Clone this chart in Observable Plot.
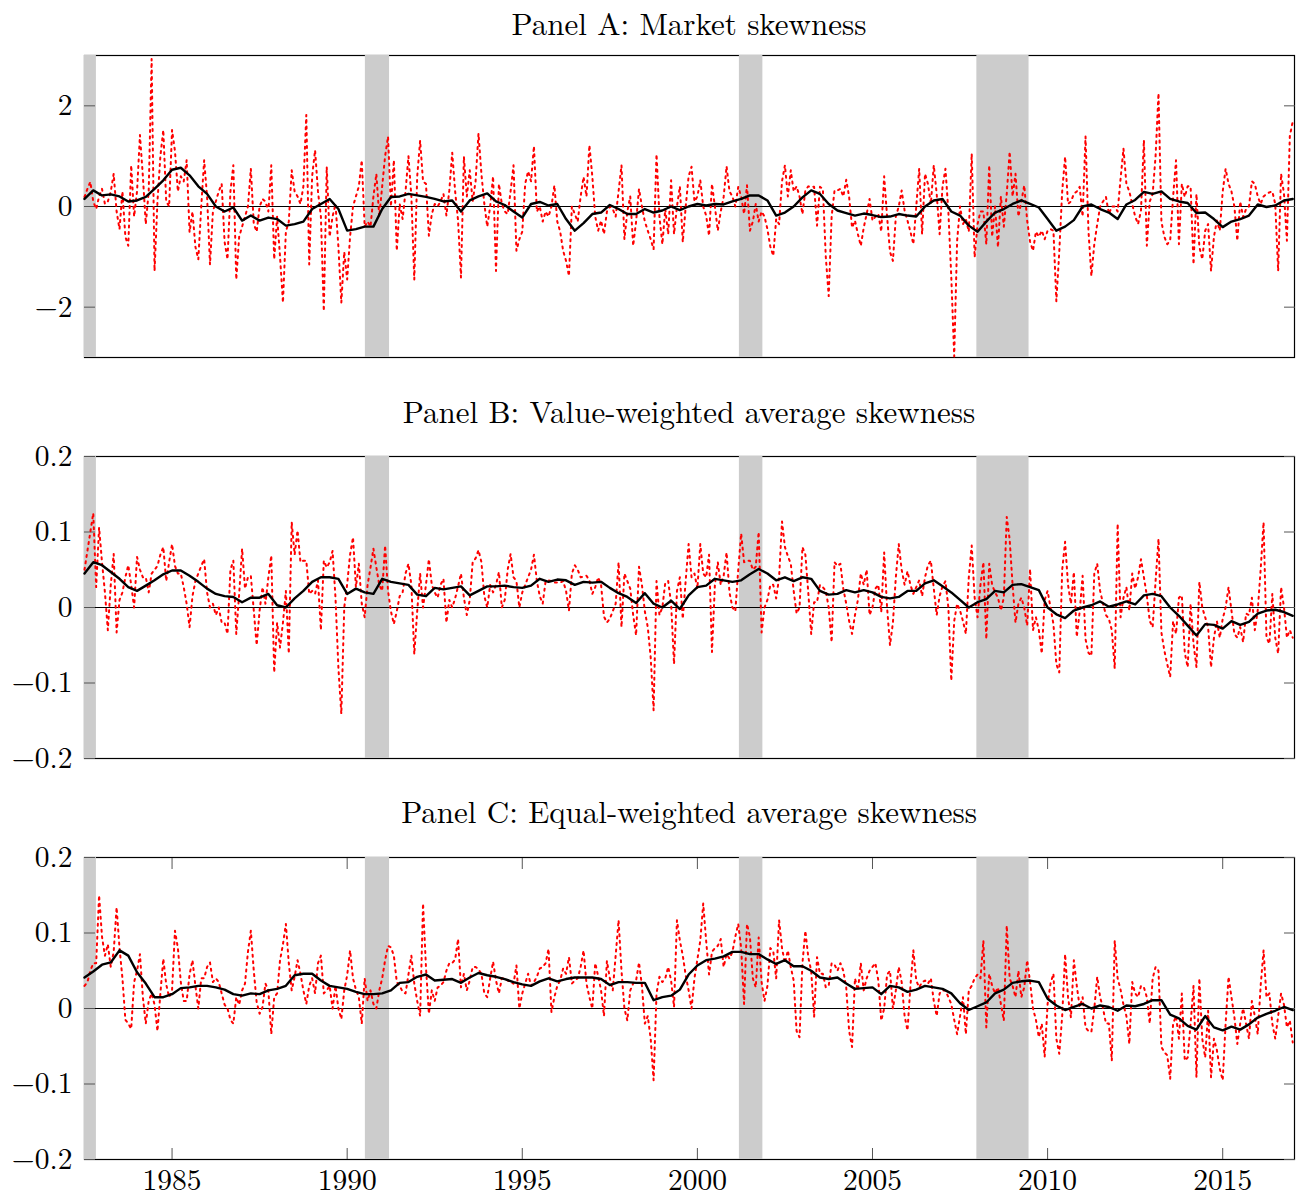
<!DOCTYPE html>
<html>
<head>
<meta charset="utf-8">
<script src="https://cdn.jsdelivr.net/npm/d3@7"></script>
<script src="https://cdn.jsdelivr.net/npm/@observablehq/plot@0.6"></script>
<style>
  html, body { margin: 0; padding: 0; background: #fff; }
  #root { position: relative; width: 1299px; height: 1197px;
          font-family: "Latin Modern Roman", "CMU Serif", "Liberation Serif", serif; }
  .ttl { position: absolute; left: 84px; width: 1210px; text-align: center;
         font-size: 31px; line-height: normal; color: #000; white-space: nowrap; }
  .pnl { position: absolute; left: 0; }
</style>
</head>
<body>
<div id="root"></div>
<script>
// ---------------- DATA ----------------
// monthly observations, first month = June 1982 (decimal year 1982.5), last = Dec 2016
const startYear = 1982.5;

const panelTitles = [
  "Panel A: Market skewness",
  "Panel B: Value-weighted average skewness",
  "Panel C: Equal-weighted average skewness"
];

// NBER recessions (decimal years)
const recessionStart = [1982.5, 1990.52, 2001.2, 2007.98];
const recessionEnd   = [1982.84, 1991.21, 2001.87, 2009.47];

const xTicks  = [1985, 1990, 1995, 2000, 2005, 2010, 2015];
const yTicksA = [-2, 0, 2];
const yTicksBC = [-0.2, -0.1, 0, 0.1, 0.2];

// Panel A: market skewness (monthly, red dotted)
const marketSkew = [
0.19,0.35,0.49,0.1,-0.05,0.2,0.35,0.05,0.1,0.3,
0.65,-0.1,-0.45,0.3,-0.6,-0.78,0.82,-0.2,0.3,1.42,
0.6,-0.35,0.3,2.93,-1.28,0.1,1.0,1.52,0.1,0.0,
1.52,1.1,0.3,0.6,0.5,0.92,-0.51,-0.1,-0.8,-1.05,
0.0,0.92,0.2,-1.15,-0.1,0.1,0.3,0.45,-0.7,-1.05,
0.3,0.82,-1.45,-0.6,-0.4,-0.2,0.0,0.75,-0.35,-0.5,
0.0,0.15,0.1,-0.1,0.82,-1.05,-0.2,-1.0,-1.91,-0.5,
-0.3,0.72,0.3,0.2,0.05,0.4,1.82,-1.15,0.6,1.12,
0.3,-0.2,-2.08,0.79,-0.6,-0.2,0.05,-0.8,-1.91,-0.9,
-1.45,-0.6,0.0,0.2,0.4,0.92,-0.4,-0.3,-0.4,0.2,
0.65,-0.2,0.4,1.0,1.39,0.0,0.92,-0.88,0.05,-0.25,
0.3,1.0,0.2,-1.45,0.6,1.31,0.5,0.45,-0.58,-0.15,
0.05,0.0,0.1,0.25,-0.18,0.32,1.07,0.3,-0.28,-1.41,
0.99,0.2,0.72,0.1,0.5,1.45,0.65,0.05,-0.4,0.0,
0.6,-1.28,0.45,0.05,-0.1,-0.15,0.3,0.82,-0.88,-0.65,
-0.5,0.45,0.7,0.5,1.2,-0.1,0.0,-0.3,-0.1,-0.2,
0.0,0.42,-0.3,-0.5,-0.88,-1.08,-1.38,0.0,-0.15,-0.3,
0.2,0.59,0.2,1.22,0.6,-0.2,-0.48,-0.28,-0.55,-0.1,
0.0,-0.05,-0.2,0.3,0.82,-0.65,-0.1,0.2,-0.78,-0.3,
0.35,0.0,-0.3,-0.48,-0.65,-0.85,1.04,-0.2,-0.75,-0.05,
-0.55,0.52,-0.55,0.0,0.4,-0.71,0.0,0.6,0.79,0.1,
0.2,0.52,0.0,-0.18,-0.58,0.45,0.0,-0.48,-0.1,0.19,
0.8,0.3,0.2,0.0,0.39,0.2,-0.15,0.42,-0.48,-0.3,
0.05,-0.3,-0.1,-0.2,-0.45,-0.8,-0.98,-0.25,-0.35,0.5,
0.82,0.2,0.72,0.3,0.4,0.2,-0.15,0.32,0.4,0.39,
0.39,-0.38,0.39,0.35,-1.0,-1.78,-0.2,0.32,0.32,0.35,
0.2,0.53,0.19,-0.42,-0.28,-0.55,-0.78,-0.42,-0.15,0.15,
-0.28,-0.2,-0.15,-0.5,0.6,-0.2,-0.9,-1.08,-0.2,0.0,
0.32,-0.08,-0.28,-0.5,-0.75,0.0,0.75,-0.55,0.65,0.45,
0.05,0.82,0.25,-0.55,0.4,0.75,-0.1,-1.4,-2.98,-0.68,
0.0,-0.35,-0.25,-0.5,1.05,-1.01,-0.35,-0.1,-0.1,-0.75,
0.82,-0.6,0.0,-0.81,0.2,-0.4,0.25,1.09,0.2,0.65,
-0.2,0.1,0.42,-0.28,-0.7,-0.88,-0.5,-0.6,-0.48,-0.65,
-0.48,-0.45,-0.48,-1.88,-0.9,0.3,0.99,0.05,0.1,0.25,
0.3,0.39,-0.2,1.39,-0.48,-1.38,-0.75,-0.35,0.0,0.1,
0.19,-0.15,0.0,0.0,-0.1,0.55,1.15,0.45,0.3,0.05,
-0.2,-0.35,-0.08,1.32,-0.78,0.1,0.25,1.0,2.25,-0.3,
-0.6,-0.75,-0.68,0.19,0.92,-0.75,0.45,0.19,0.4,0.4,
-1.15,0.25,-0.8,-1.05,-0.48,-0.35,-1.28,-0.6,-0.28,-0.48,
0.3,0.75,0.45,0.3,0.0,-0.68,0.1,-0.21,-0.05,0.0,
0.5,0.45,0.2,0.05,0.2,0.25,0.28,0.3,0.05,-1.28,
0.65,0.25,-0.68,1.4,1.69
];

// Panel B: value-weighted average skewness (monthly, red dotted)
const vwSkew = [
0.05,0.075,0.1,0.125,0.027,0.106,0.06,0.02,-0.03,0.03,
0.071,-0.033,0.01,0.02,0.04,0.056,0.03,0.0,0.067,0.05,
0.04,0.04,0.02,0.045,0.05,0.055,0.07,0.08,0.035,0.06,
0.084,0.055,0.045,0.045,0.027,0.005,-0.026,0.015,0.035,0.045,
0.055,0.064,0.02,0.0,0.005,-0.01,0.0,-0.02,-0.02,-0.035,
0.05,0.062,-0.035,0.018,0.078,0.025,0.04,0.042,-0.004,-0.05,
-0.004,0.027,0.005,0.04,0.069,-0.086,-0.02,-0.053,-0.02,0.022,
-0.061,0.113,0.07,0.102,0.06,0.062,0.062,0.018,0.022,0.018,
0.036,-0.03,0.062,0.053,0.06,0.075,0.013,-0.08,-0.141,0.0,
0.031,0.07,0.093,0.027,0.058,0.005,-0.013,0.03,0.053,0.078,
0.053,0.03,0.022,0.082,0.022,-0.005,-0.022,-0.005,0.015,0.02,
0.045,0.058,0.03,-0.062,-0.005,0.045,0.0,0.03,0.064,0.03,
0.02,0.013,0.03,0.038,-0.02,0.01,0.0,0.012,0.028,0.045,
0.013,-0.01,0.01,0.06,0.065,0.076,0.06,0.015,0.0,0.03,
0.02,0.03,0.047,0.0,0.01,0.05,0.071,0.04,0.035,0.0,
0.02,0.03,0.04,0.05,0.07,0.035,0.015,0.005,0.035,0.036,
0.035,0.033,0.033,0.033,0.035,0.022,-0.004,0.045,0.056,0.05,
0.04,0.041,0.042,0.036,0.018,0.027,0.04,0.03,-0.012,-0.02,
-0.015,-0.005,0.005,0.06,-0.026,0.045,0.035,0.025,-0.01,-0.037,
0.054,0.03,-0.005,-0.026,-0.066,-0.136,0.035,-0.01,0.0,0.033,
0.035,0.005,-0.075,0.022,0.04,-0.015,0.036,0.084,0.04,0.045,
0.025,0.084,0.045,0.04,0.07,-0.059,0.03,0.06,0.03,0.042,
0.073,0.02,0.0,-0.005,0.05,0.098,0.06,0.062,0.062,0.05,
0.054,0.1,-0.033,0.0,0.01,0.03,0.03,0.012,0.04,0.114,
0.08,0.068,0.058,0.022,-0.008,0.0,0.08,0.07,0.02,-0.035,
0.007,0.007,0.03,0.027,0.022,0.0,-0.046,0.06,0.055,0.058,
0.025,0.005,-0.018,-0.035,-0.01,0.01,0.045,0.03,0.05,-0.01,
0.0,0.025,0.03,-0.006,0.073,0.0,-0.05,-0.02,0.04,0.084,
0.05,0.03,0.048,0.03,0.018,0.027,0.036,0.015,0.04,0.056,
0.062,0.025,-0.01,0.015,0.028,0.035,0.0,-0.097,-0.018,0.005,
-0.004,-0.018,-0.035,0.04,0.082,0.013,-0.013,0.03,0.06,-0.042,
0.058,0.03,0.02,0.013,-0.004,0.013,0.12,0.09,0.03,-0.02,
0.005,0.013,0.0,-0.024,0.051,-0.03,-0.013,-0.03,-0.061,0.01,
0.022,0.0,-0.022,-0.075,-0.086,0.05,0.087,0.03,0.005,0.047,
-0.039,-0.005,0.042,-0.042,-0.06,-0.064,0.045,0.058,0.022,0.005,
-0.01,-0.015,-0.03,-0.081,0.111,-0.013,0.013,0.027,-0.004,0.045,
0.025,0.04,0.064,0.04,0.016,-0.018,-0.026,0.035,0.091,-0.033,
-0.057,-0.075,-0.092,-0.018,-0.035,0.013,0.016,-0.06,-0.079,0.005,
-0.048,-0.079,0.034,0.0,-0.013,-0.026,-0.079,-0.04,-0.018,-0.04,
-0.015,0.0,0.027,-0.004,-0.035,-0.04,-0.026,-0.046,-0.008,-0.01,
0.013,-0.03,-0.004,0.05,0.113,-0.04,-0.048,0.018,-0.04,-0.061,
0.027,0.0,-0.04,-0.03,-0.04
];

// Panel C: equal-weighted average skewness (monthly, red dotted)
const ewSkew = [
0.03,0.035,0.05,0.06,0.06,0.15,0.095,0.07,0.085,0.055,
0.075,0.134,0.08,0.04,-0.015,-0.02,-0.027,0.035,0.05,0.072,
0.015,-0.02,0.01,0.02,0.005,-0.03,0.02,0.066,0.032,0.015,
0.024,0.103,0.08,0.035,0.01,0.01,0.045,0.064,0.03,0.0,
0.04,0.04,0.055,0.061,0.035,0.04,0.035,0.02,0.005,0.0,
-0.015,-0.02,0.015,0.005,0.024,0.033,0.075,0.103,0.05,0.008,
-0.007,0.002,0.033,0.024,-0.034,0.015,0.02,0.064,0.085,0.112,
0.06,0.024,0.042,0.064,0.046,0.024,0.006,0.03,0.04,0.02,
0.06,0.07,0.02,0.024,0.03,0.0,0.03,0.0,-0.014,0.024,
0.044,0.077,0.04,0.025,0.015,-0.02,0.04,0.01,0.024,0.006,
0.0,0.024,0.04,0.064,0.083,0.081,0.07,0.035,0.03,0.022,
0.02,0.045,0.07,0.033,0.01,-0.01,0.139,0.055,-0.007,0.024,
0.01,0.028,0.03,0.035,0.05,0.06,0.06,0.065,0.092,0.028,
0.046,0.024,0.037,0.055,0.055,0.052,0.046,0.02,0.015,0.04,
0.062,0.037,0.02,0.04,0.04,0.037,0.035,0.033,0.057,0.0,
0.02,0.033,0.046,0.03,0.035,0.042,0.053,0.055,0.06,0.079,
-0.005,0.015,0.03,0.037,0.053,0.046,0.068,0.033,0.037,0.04,
0.055,0.077,0.033,0.015,0.0,0.06,0.043,0.024,-0.01,0.063,
0.04,0.024,0.07,0.117,0.05,0.0,-0.016,0.024,0.033,0.037,
0.061,0.03,-0.02,-0.01,-0.04,-0.095,0.02,0.042,0.035,0.04,
0.055,0.037,0.002,0.117,0.09,0.07,0.044,0.024,0.0,0.04,
0.065,0.09,0.139,0.09,0.045,0.075,0.08,0.083,0.092,0.055,
0.072,0.066,0.075,0.095,0.112,0.08,0.006,0.112,0.095,0.04,
0.028,0.094,0.035,0.01,0.03,0.08,0.076,0.04,0.117,0.08,
0.06,0.077,0.055,0.037,-0.03,-0.038,0.06,0.103,0.068,0.05,
-0.011,0.068,0.046,0.046,0.028,0.03,0.06,0.058,0.05,0.06,
0.05,0.028,-0.03,-0.051,0.04,0.024,0.06,0.024,0.04,0.05,
0.055,0.06,0.037,-0.016,0.0,0.045,0.05,0.0,0.024,0.055,
0.035,-0.01,-0.029,0.03,0.077,0.037,0.028,0.035,0.037,0.033,
0.04,0.01,-0.01,0.02,0.024,0.024,0.015,0.006,-0.015,-0.034,
-0.01,0.015,-0.034,0.024,0.03,0.04,0.045,0.04,0.09,-0.025,
0.046,0.03,0.02,0.028,0.006,-0.016,0.11,0.04,0.03,0.015,
0.05,0.015,0.028,0.064,0.035,0.0,-0.015,-0.038,-0.02,-0.064,
0.006,0.033,0.046,-0.04,-0.06,-0.01,0.072,0.015,-0.012,0.064,
0.03,0.002,0.015,-0.025,-0.03,-0.031,0.0,0.042,0.015,0.0,
-0.02,-0.02,-0.069,0.09,0.04,0.025,0.005,-0.01,-0.047,0.035,
0.02,0.015,0.03,0.028,0.015,-0.02,0.04,0.055,0.05,-0.051,
-0.058,-0.062,-0.093,-0.02,-0.01,-0.04,0.02,-0.069,-0.065,-0.02,
0.03,-0.091,0.04,-0.04,-0.065,-0.003,-0.091,-0.04,-0.055,-0.08,
-0.095,-0.02,0.042,0.015,-0.011,-0.047,-0.02,0.0,-0.02,-0.04,
0.01,-0.01,-0.034,0.03,0.077,0.015,0.02,-0.02,-0.04,-0.01,
0.02,0.005,-0.025,-0.016,-0.045
];

// Smoothed series (black solid), read every quarter starting June 1982
const marketSkewMA = [
0.15,0.32,0.22,0.24,0.2,0.1,0.12,0.19,0.35,0.52,
0.73,0.77,0.62,0.4,0.25,0.0,-0.1,-0.02,-0.28,-0.18,
-0.28,-0.22,-0.25,-0.38,-0.35,-0.3,-0.05,0.05,0.15,-0.05,
-0.48,-0.45,-0.4,-0.4,-0.05,0.19,0.2,0.25,0.22,0.19,
0.15,0.1,0.12,-0.1,0.12,0.2,0.26,0.1,0.03,-0.1,
-0.22,0.05,0.09,0.02,0.05,-0.25,-0.48,-0.33,-0.15,-0.12,
0.03,-0.05,-0.15,-0.15,-0.05,-0.12,-0.08,0.0,-0.07,0.0,
0.05,0.02,0.05,0.04,0.1,0.15,0.22,0.22,0.12,-0.18,
-0.12,0.0,0.18,0.32,0.25,0.05,-0.08,-0.13,-0.18,-0.14,
-0.17,-0.21,-0.2,-0.15,-0.18,-0.2,0.0,0.12,0.15,-0.1,
-0.18,-0.38,-0.5,-0.3,-0.12,-0.05,0.05,0.12,0.05,-0.02,
-0.25,-0.48,-0.4,-0.27,0.0,0.04,-0.05,-0.12,-0.25,0.04,
0.13,0.29,0.25,0.3,0.15,0.1,0.07,-0.13,-0.12,-0.25,
-0.41,-0.3,-0.25,-0.18,0.04,-0.01,0.02,0.12,0.15
];
const vwSkewMA = [
0.045,0.06,0.056,0.047,0.038,0.027,0.022,0.029,0.036,0.044,
0.049,0.049,0.042,0.034,0.025,0.018,0.015,0.014,0.007,0.013,
0.013,0.018,0.003,0.0,0.012,0.022,0.034,0.04,0.04,0.038,
0.018,0.025,0.02,0.018,0.038,0.034,0.032,0.03,0.017,0.015,
0.026,0.024,0.026,0.028,0.016,0.022,0.028,0.028,0.029,0.027,
0.026,0.029,0.038,0.034,0.037,0.036,0.03,0.034,0.033,0.034,
0.026,0.019,0.014,0.006,0.019,0.005,0.0,0.009,-0.002,0.016,
0.027,0.029,0.038,0.036,0.034,0.036,0.044,0.051,0.045,0.036,
0.04,0.035,0.04,0.038,0.022,0.017,0.018,0.023,0.02,0.023,
0.02,0.014,0.012,0.014,0.022,0.022,0.032,0.036,0.028,0.02,
0.01,0.0,0.007,0.011,0.022,0.02,0.03,0.031,0.027,0.023,
0.0,-0.009,-0.014,-0.004,0.0,0.003,0.008,0.001,0.004,0.008,
0.004,0.016,0.018,0.015,0.0,-0.011,-0.024,-0.037,-0.022,-0.023,
-0.028,-0.018,-0.023,-0.019,-0.008,-0.004,-0.003,-0.006,-0.011
];
const ewSkewMA = [
0.041,0.049,0.058,0.061,0.077,0.07,0.048,0.033,0.015,0.015,
0.019,0.027,0.028,0.03,0.03,0.028,0.025,0.019,0.017,0.02,
0.019,0.024,0.026,0.03,0.044,0.046,0.046,0.037,0.03,0.028,
0.026,0.022,0.019,0.019,0.02,0.024,0.034,0.035,0.042,0.045,
0.037,0.038,0.039,0.034,0.041,0.047,0.044,0.042,0.039,0.035,
0.032,0.03,0.036,0.04,0.036,0.039,0.041,0.041,0.041,0.039,
0.031,0.035,0.035,0.034,0.034,0.011,0.015,0.017,0.025,0.045,
0.057,0.064,0.066,0.069,0.075,0.075,0.072,0.072,0.065,0.059,
0.064,0.056,0.056,0.05,0.041,0.039,0.041,0.033,0.026,0.027,
0.028,0.019,0.03,0.028,0.022,0.025,0.03,0.028,0.026,0.02,
0.007,-0.002,0.003,0.008,0.02,0.025,0.034,0.036,0.037,0.035,
0.013,0.004,-0.002,0.002,0.006,0.0,0.004,0.002,-0.003,0.004,
0.003,0.006,0.011,0.011,-0.008,-0.013,-0.023,-0.028,-0.01,-0.025,
-0.029,-0.024,-0.028,-0.021,-0.012,-0.007,-0.003,0.002,-0.002
];

// ---------------- BUILD ----------------
const monthly = arr => arr.map((v, i) => ({t: startYear + i / 12, v}));
const quarterly = arr => arr.map((v, k) => ({t: startYear + k / 4, v}));
const recessions = recessionStart.map((s, i) => ({start: s, end: recessionEnd[i]}));
const fmt = d => d === 0 ? "0" : (d < 0 ? "\u2212" : "") + Math.abs(d);

const panels = [
  {title: panelTitles[0], red: marketSkew, black: marketSkewMA, y: [-3, 3], ticks: yTicksA,
   titleTop: 0, top: 45, height: 320, mb: 8, xAxis: false},
  {title: panelTitles[1], red: vwSkew, black: vwSkewMA, y: [-0.2, 0.2], ticks: yTicksBC,
   titleTop: 388, top: 446, height: 320, mb: 8, xAxis: false},
  {title: panelTitles[2], red: ewSkew, black: ewSkewMA, y: [-0.2, 0.2], ticks: yTicksBC,
   titleTop: 788, top: 847, height: 350, mb: 38, xAxis: true}
];

const root = document.getElementById("root");
const tickColor = "#555";

for (const p of panels) {
  const t = document.createElement("div");
  t.className = "ttl";
  t.style.top = p.titleTop + "px";
  t.textContent = p.title;
  root.appendChild(t);

  const marks = [
    Plot.frame({stroke: "black", strokeWidth: 1.2}),
    Plot.rect(recessions, {x1: "start", x2: "end", fill: "#cccccc"}),
    Plot.ruleY([0], {stroke: "black", strokeWidth: 1}),
    Plot.axisY(p.ticks, {anchor: "left", tickSize: 11, dx: 11, tickPadding: 12,
      tickFormat: fmt, stroke: tickColor, fill: "black", label: null}),
    Plot.axisY(p.ticks, {anchor: "right", tickSize: 11, dx: -11,
      tickFormat: () => "", stroke: tickColor, label: null}),
    Plot.line(monthly(p.red), {x: "t", y: "v", stroke: "#ff0000", strokeWidth: 2,
      strokeDasharray: "2,4.5"}),
    Plot.line(quarterly(p.black), {x: "t", y: "v", stroke: "black", strokeWidth: 2.4,
      strokeLinejoin: "round"})
  ];
  if (p.xAxis) {
    marks.push(
      Plot.axisX(xTicks, {anchor: "bottom", tickSize: 11, dy: -11, tickPadding: 10,
        tickFormat: d => String(d), stroke: tickColor, fill: "black", label: null}),
      Plot.axisX(xTicks, {anchor: "top", tickSize: 11, dy: 11,
        tickFormat: () => "", stroke: tickColor, label: null})
    );
  }

  const chart = Plot.plot({
    width: 1299,
    height: p.height,
    marginLeft: 84,
    marginRight: 5,
    marginTop: 10,
    marginBottom: p.mb,
    style: {fontFamily: '"Latin Modern Roman", "CMU Serif", "Liberation Serif", serif',
            fontSize: "29.5px", overflow: "visible", background: "transparent"},
    x: {domain: [1982.5, 2017.05], axis: p.xAxis ? undefined : null},
    y: {domain: p.y},
    marks
  });
  chart.classList.add("pnl");
  chart.style.top = p.top + "px";
  root.appendChild(chart);
}
</script>
</body>
</html>
